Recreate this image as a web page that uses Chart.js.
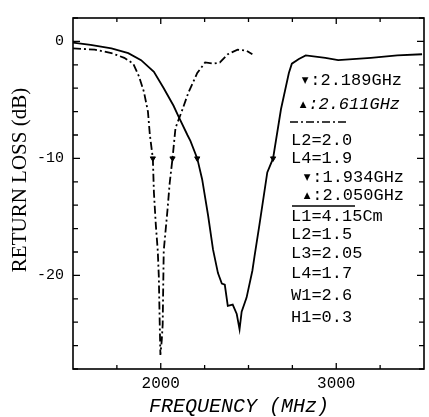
<!DOCTYPE html>
<html>
<head>
<meta charset="utf-8">
<style>html,body{margin:0;padding:0;background:#fff;}canvas{display:block;}</style>
<script src="https://cdn.jsdelivr.net/npm/chart.js@4.4.1/dist/chart.umd.min.js"></script>
</head>
<body>
<canvas id="c" width="429" height="417"></canvas>
<script>
// ---- data ----
const freqSolid = [1500,1600,1719,1815,1888,1961,2017,2073,2101,2152,2169,2208,2236,2270,2298,2326,2348,2365,2382,2410,2433,2449,2461,2489,2522,2534,2562,2590,2607,2640,2685,2730,2747,2787,2826,2938,3011,3197,3348,3489];
const lossSolid = [-0.1,-0.3,-0.6,-1.0,-1.6,-2.6,-4.0,-5.5,-6.4,-8.0,-8.5,-10.0,-11.8,-14.9,-17.8,-19.8,-20.7,-20.8,-22.6,-22.5,-23.3,-24.6,-23.1,-21.9,-19.6,-18.4,-15.7,-12.9,-11.2,-10.0,-5.8,-2.7,-1.9,-1.5,-1.2,-1.4,-1.6,-1.4,-1.2,-1.1];
const freqDash = [1500,1624,1719,1792,1843,1876,1904,1927,1938,1955,1961,1972,1983,1989,1994,1998,2006,2011,2017,2039,2051,2067,2084,2124,2157,2208,2253,2298,2337,2382,2438,2489,2522];
const lossDash = [-0.6,-0.7,-1.0,-1.4,-1.9,-3.0,-4.3,-6.0,-8.0,-10.0,-12.9,-15.7,-17.9,-20.1,-24.0,-26.8,-25.5,-24.2,-17.9,-14.3,-12.1,-10.0,-7.4,-5.8,-4.4,-2.7,-1.8,-1.9,-1.8,-1.1,-0.7,-0.8,-1.1];
const markerSolidFreq = [2208,2640];
const markerDashFreq = [1955,2067];
const markerLoss = -10;
const xTickLabels = [2000,3000];
const yTickLabels = [0,-10,-20];
const legendDashTitle = ["\u25BE:2.189GHz","\u25B4:2.611GHz"];
const legendDashParams = ["L2=2.0","L4=1.9"];
const legendSolidTitle = ["\u25BE:1.934GHz","\u25B4:2.050GHz"];
const legendSolidParams = ["L1=4.15Cm","L2=1.5","L3=2.05","L4=1.7","W1=2.6","H1=0.3"];
const xTitle = "FREQUENCY (MHz)";
const yTitle = "RETURN LOSS (dB)";

const toXY = (xs, ys) => xs.map((x,i)=>({x:x, y:ys[i]}));
const mono = "'Liberation Mono', 'DejaVu Sans Mono', monospace";

const decor = {
  id:'decor',
  afterDraw(chart){
    const ctx = chart.ctx, a = chart.chartArea;
    const xs = chart.scales.x, ys = chart.scales.y;
    ctx.save();
    ctx.strokeStyle = '#000'; ctx.lineWidth = 1.6;
    ctx.strokeRect(a.left, a.top, a.right-a.left, a.bottom-a.top);
    ctx.lineWidth = 1.3;
    ctx.beginPath();
    for (let v = -28; v <= 2; v += 2) {
      const p = ys.getPixelForValue(v);
      const len = (v % 10 === 0) ? 7 : 5;
      ctx.moveTo(a.left, p); ctx.lineTo(a.left+len, p);
      ctx.moveTo(a.right, p); ctx.lineTo(a.right-len, p);
    }
    for (let v = 1750; v < 3500; v += 250) {
      const p = xs.getPixelForValue(v);
      const len = (v % 1000 === 0) ? 6 : 4;
      ctx.moveTo(p, a.bottom); ctx.lineTo(p, a.bottom-len);
      ctx.moveTo(p, a.top); ctx.lineTo(p, a.top+len);
    }
    ctx.stroke();

    ctx.fillStyle = '#000';
    ctx.textBaseline = 'middle';
    // axis titles
    ctx.font = "italic 20px " + mono;
    ctx.textAlign = 'center';
    ctx.fillText(xTitle, 239, 407);
    ctx.save();
    ctx.translate(20, 180);
    ctx.rotate(-Math.PI/2);
    ctx.font = "21px 'Liberation Serif', serif";
    ctx.fillText(yTitle, 0, 0);
    ctx.restore();

    // legend block
    ctx.textAlign = 'left';
    ctx.font = "17px " + mono;
    ctx.fillText(legendDashTitle[0], 300, 80);
    ctx.font = "italic 17px " + mono;
    ctx.fillText(legendDashTitle[1], 298, 104);
    ctx.font = "17px " + mono;
    ctx.lineWidth = 1.6;
    ctx.setLineDash([8,3,2,3]);
    ctx.beginPath(); ctx.moveTo(290,122); ctx.lineTo(346,122); ctx.stroke();
    ctx.setLineDash([]);
    const yDash = [140,158];
    legendDashParams.forEach((t,i)=>ctx.fillText(t, 291, yDash[i]));
    ctx.fillText(legendSolidTitle[0], 302, 177);
    ctx.fillText(legendSolidTitle[1], 302, 195);
    ctx.beginPath(); ctx.moveTo(292,206); ctx.lineTo(355,206); ctx.stroke();
    const ySol = [216,234,253,273,295,317];
    legendSolidParams.forEach((t,i)=>ctx.fillText(t, 291, ySol[i]));
    ctx.restore();
  }
};

new Chart(document.getElementById('c'), {
  type:'line',
  data:{
    datasets:[
      {data:toXY(freqSolid,lossSolid), borderColor:'#000', borderWidth:1.8, pointRadius:0, tension:0},
      {data:toXY(freqDash,lossDash), borderColor:'#000', borderWidth:1.8, borderDash:[8,3,2,3], pointRadius:0, tension:0},
      {type:'scatter', data:markerSolidFreq.map(f=>({x:f,y:markerLoss})), pointStyle:'triangle', rotation:180, pointRadius:3, backgroundColor:'#000', borderColor:'#000'},
      {type:'scatter', data:markerDashFreq.map(f=>({x:f,y:markerLoss})), pointStyle:'triangle', rotation:180, pointRadius:3, backgroundColor:'#000', borderColor:'#000'}
    ]
  },
  options:{
    responsive:false, animation:false, devicePixelRatio:1,
    layout:{padding:{top:6,right:2,left:0,bottom:0}},
    plugins:{legend:{display:false}, tooltip:{enabled:false}},
    scales:{
      x:{type:'linear', min:1500, max:3500,
        afterFit:s=>{s.height=48;},
        grid:{display:false, drawTicks:false}, border:{display:false},
        ticks:{stepSize:500, autoSkip:false, maxRotation:0, padding:5, color:'#000',
          font:{family:mono, size:16},
          callback:v=>xTickLabels.includes(v)?String(v):''}},
      y:{type:'linear', min:-28, max:2,
        afterFit:s=>{s.width=73;},
        grid:{display:false, drawTicks:false}, border:{display:false},
        ticks:{stepSize:2, autoSkip:false, padding:9, color:'#000',
          font:{family:mono, size:15},
          callback:v=>yTickLabels.includes(v)?String(v):''}}
    }
  },
  plugins:[decor]
});
</script>
</body>
</html>
